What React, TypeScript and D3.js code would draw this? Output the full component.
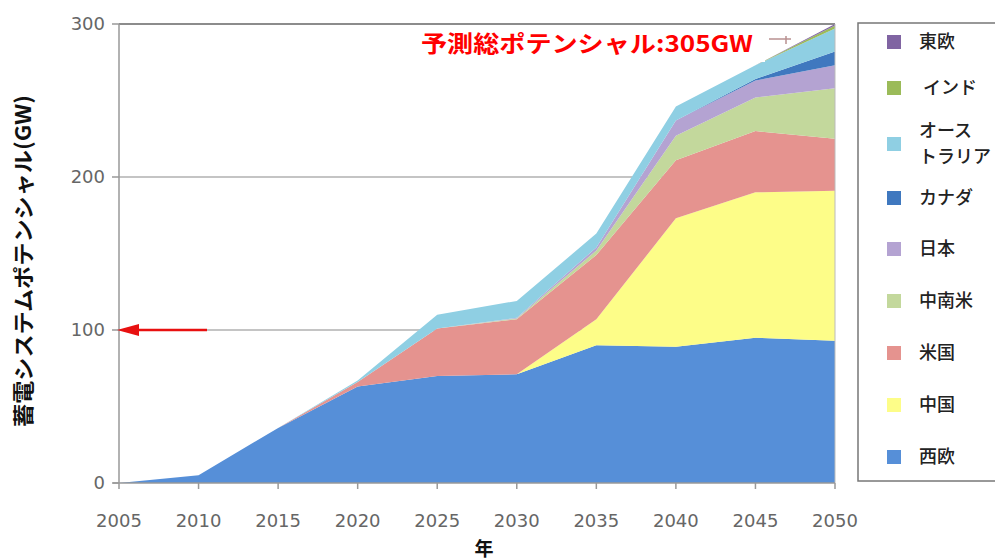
import React from "react";
import * as d3 from "d3";

const years = [2005, 2010, 2015, 2020, 2025, 2030, 2035, 2040, 2045, 2050];
const westEurope = [0, 5, 36, 63, 70, 71, 90, 89, 95, 93];
const china = [0, 0, 0, 0, 0, 0, 17, 84, 95, 98];
const usa = [0, 0, 0, 3, 31, 36, 42, 38, 40, 34];
const latinAmerica = [0, 0, 0, 0, 0, 0.5, 3, 16, 22, 33];
const japan = [0, 0, 0, 0, 0, 0.5, 2, 10, 11, 15];
const canada = [0, 0, 0, 0, 0, 0, 0, 0, 1, 9];
const australia = [0, 0, 0, 1, 9, 11, 9, 9, 9, 15];
const india = [0, 0, 0, 0, 0, 0, 0, 0, 0, 2];
const eastEurope = [0, 0, 0, 0, 0, 0, 0, 0, 0, 1];

const seriesKeys = ["西欧", "中国", "米国", "中南米", "日本", "カナダ", "オーストラリア", "インド", "東欧"];
const seriesValues = [westEurope, china, usa, latinAmerica, japan, canada, australia, india, eastEurope];
const seriesColors = ["#568fd8", "#fdfd88", "#e5938f", "#c3d89c", "#b4a3d2", "#3f78bf", "#8fcfe3", "#9bbb59", "#8064a2"];

const yTicks = [0, 100, 200, 300];
const xTicks = years;

const legendOrder = ["東欧", "インド", "オーストラリア", "カナダ", "日本", "中南米", "米国", "中国", "西欧"];
const legendLabels: Record<string, string[]> = {
  東欧: ["東欧"],
  インド: [" インド"],
  オーストラリア: ["オース", "トラリア"],
  カナダ: ["カナダ"],
  日本: ["日本"],
  中南米: ["中南米"],
  米国: ["米国"],
  中国: ["中国"],
  西欧: ["西欧"],
};
const legendY = [42, 88, 144, 198, 249, 301, 353, 405, 457];

const annotation = "予測総ポテンシャル:305GW";

const JP = "'Noto Sans CJK JP', 'Noto Sans', sans-serif";
const NUM = "'DejaVu Sans', 'Open Sans', sans-serif";

export default function App() {
  const W = 995;
  const H = 560;
  const x = d3.scaleLinear().domain([2005, 2050]).range([119, 835]);
  const y = d3.scaleLinear().domain([0, 300]).range([483, 24]);

  const table = years.map((yr, i) => {
    const row: any = { year: yr };
    seriesKeys.forEach((k, j) => (row[k] = seriesValues[j][i]));
    return row;
  });
  const stacked = d3.stack<any>().keys(seriesKeys)(table);
  const area = d3
    .area<any>()
    .x((d) => x(d.data.year))
    .y0((d) => y(d[0]))
    .y1((d) => y(d[1]));

  const colorOf = (k: string) => seriesColors[seriesKeys.indexOf(k)];

  return (
    <svg width={W} height={H} style={{ position: "absolute", left: 0, top: 0, background: "#fff" }}>
      <defs>
        <clipPath id="plotclip">
          <rect x={x(2005)} y={y(300)} width={x(2050) - x(2005)} height={y(0) - y(300)} />
        </clipPath>
      </defs>
      {/* gridlines */}
      {yTicks.filter((t) => t > 0).map((t) => (
        <line key={t} x1={x(2005)} x2={x(2050)} y1={y(t)} y2={y(t)} stroke={t === 300 ? "#8c8c8c" : "#b0b0b0"} strokeWidth={t === 300 ? 2 : 1.5} />
      ))}
      {/* areas */}
      <g clipPath="url(#plotclip)">
        {stacked.map((s) => (
          <path key={s.key} d={area(s) || ""} fill={colorOf(s.key)} />
        ))}
      </g>
      {/* axes */}
      <line x1={x(2005)} x2={x(2005)} y1={y(300)} y2={y(0)} stroke="#999" strokeWidth={1.5} />
      <line x1={x(2050)} x2={x(2050)} y1={y(300)} y2={y(0)} stroke="#bbb" strokeWidth={1} />
      <line x1={x(2005) - 6} x2={x(2050)} y1={y(0)} y2={y(0)} stroke="#999" strokeWidth={1.5} />
      {yTicks.map((t) => (
        <g key={t}>
          <line x1={x(2005) - 7} x2={x(2005)} y1={y(t)} y2={y(t)} stroke="#999" strokeWidth={1.5} />
          <text x={105} y={y(t)} dy="0.36em" textAnchor="end" fontFamily={NUM} fontSize={18} fill="#666">
            {t}
          </text>
        </g>
      ))}
      {xTicks.map((t) => (
        <g key={t}>
          <line x1={x(t)} x2={x(t)} y1={y(0)} y2={y(0) + 6} stroke="#999" strokeWidth={1.5} />
          <text x={x(t)} y={521} dy="0.36em" textAnchor="middle" fontFamily={NUM} fontSize={18} fill="#666">
            {t}
          </text>
        </g>
      ))}
      {/* axis titles */}
      <text x={484} y={549} dy="0.36em" textAnchor="middle" fontFamily={JP} fontWeight="bold" fontSize={19} fill="#111">
        年
      </text>
      <text
        transform={`translate(23,261) rotate(-90)`}
        x={-166}
        textLength={332}
        lengthAdjust="spacingAndGlyphs"
        dy="0.36em"
        fontFamily={JP}
        fontWeight="bold"
        fontSize={21}
        fill="#111"
      >
        蓄電システムポテンシャル(GW)
      </text>
      {/* red arrow at 100 */}
      <line x1={x(2005) + 16} x2={207} y1={y(100)} y2={y(100)} stroke="#e81010" strokeWidth={2.5} />
      <polygon
        points={`${x(2005) - 2},${y(100)} ${x(2005) + 20},${y(100) - 6} ${x(2005) + 20},${y(100) + 6}`}
        fill="#e81010"
      />
      {/* annotation */}
      <rect x={413} y={25} width={352} height={37} fill="#fff" />
      <text
        x={421}
        y={44}
        dy="0.36em"
        textLength={332}
        lengthAdjust="spacingAndGlyphs"
        fontFamily={JP}
        fontWeight="bold"
        fontSize={23}
        fill="#ff0000"
      >
        {annotation}
      </text>
      <line x1={769} x2={791} y1={39} y2={39} stroke="#b89090" strokeWidth={1.5} />
      <line x1={786} x2={786} y1={36} y2={44} stroke="#b89090" strokeWidth={1.5} />
      {/* legend */}
      <rect x={858} y={23} width={200} height={458} fill="#fff" stroke="#777" strokeWidth={1.5} />
      {legendOrder.map((k, i) => {
        const lines = legendLabels[k];
        const cy = legendY[i];
        return (
          <g key={k}>
            <rect x={887} y={cy - 7} width={14} height={14} fill={colorOf(k)} />
            {lines.map((ln, j) => (
              <text
                key={j}
                x={919}
                y={cy + (j - (lines.length - 1) / 2) * 26}
                dy="0.36em"
                fontFamily={JP}
                fontSize={18}
                fontWeight={500}
                fill="#222"
                style={{ whiteSpace: "pre" }}
              >
                {ln}
              </text>
            ))}
          </g>
        );
      })}
    </svg>
  );
}
